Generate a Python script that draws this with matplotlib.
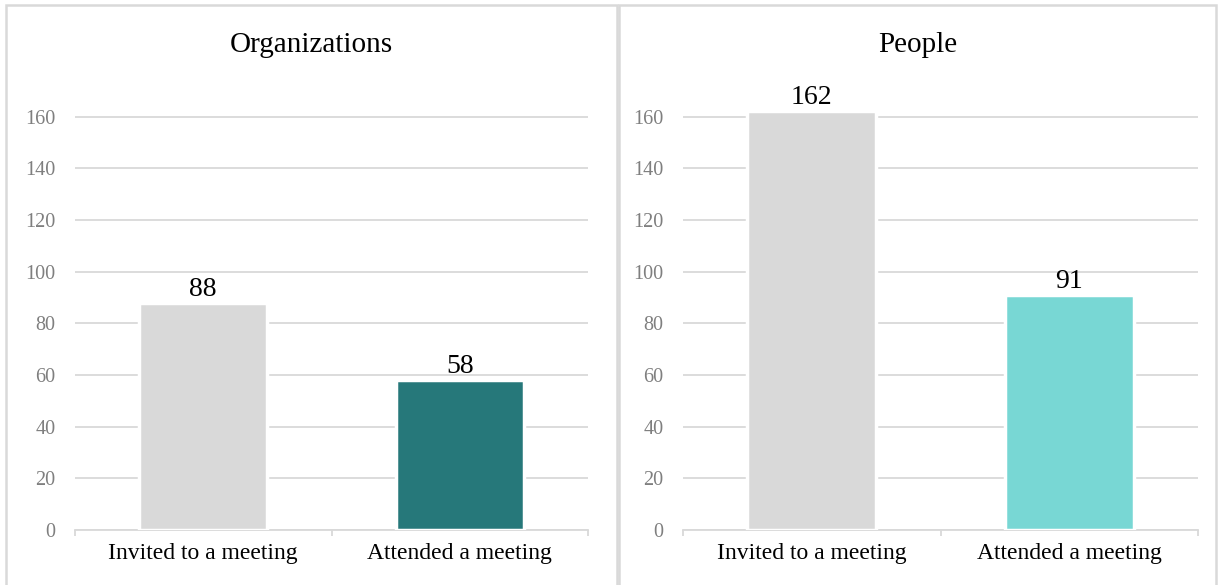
import matplotlib.pyplot as plt
import matplotlib.patches as mpatches

categories = ["Invited to a meeting", "Attended a meeting"]
panel_titles = ["Organizations", "People"]
org_values = [88, 58]
people_values = [162, 91]
org_colors = ["#d9d9d9", "#26787a"]
people_colors = ["#d9d9d9", "#78d7d4"]
y_ticks = [0, 20, 40, 60, 80, 100, 120, 140, 160]

W, H = 1219, 585
plt.rcParams['font.family'] = ['Liberation Serif', 'DejaVu Serif']

fig = plt.figure(figsize=(W / 100, H / 100), dpi=100)

# panel frames (pixel coords -> figure fraction)
for x0, x1 in [(6, 617), (619, 1216)]:
    rect = mpatches.Rectangle((x0 / W, -0.05), (x1 - x0) / W, 1 - 5 / H + 0.05,
                              transform=fig.transFigure, facecolor='none',
                              edgecolor='#d9d9d9', linewidth=1.8)
    fig.patches.append(rect)


def draw_panel(left_px, right_px, title, values, colors, center_px):
    bottom = 1 - 530 / H
    ymax = 165
    top_px = 530 - ymax * 2.584
    ax = fig.add_axes([left_px / W, bottom, (right_px - left_px) / W, (530 - top_px) / H])
    x = range(len(values))
    ax.bar(x, values, width=0.5, color=colors, edgecolor='white', linewidth=2.5, zorder=3)
    for xi, v in zip(x, values):
        ax.annotate(str(v), (xi, v), xytext=(0, 5), textcoords='offset points',
                    ha='center', va='baseline', fontsize=20, color='black')

    ax.set_xlim(-0.5, len(values) - 0.5)
    ax.set_ylim(0, ymax)
    ax.set_yticks(y_ticks)
    ax.tick_params(axis='y', length=0, pad=14, labelsize=14.5, labelcolor='#7f7f7f')
    ax.set_xticks(list(x))
    ax.set_xticklabels(categories)
    ax.tick_params(axis='x', which='major', length=0, pad=9, labelsize=17)
    ax.set_xticks([-0.5, 0.5, 1.5], minor=True)
    ax.tick_params(axis='x', which='minor', length=4.5, width=1.3, color='#d9d9d9')

    ax.yaxis.grid(True, color='#d9d9d9', linewidth=1.3, zorder=0)
    ax.set_axisbelow(True)
    for side in ['top', 'right', 'left']:
        ax.spines[side].set_visible(False)
    ax.spines['bottom'].set_color('#d9d9d9')
    ax.spines['bottom'].set_linewidth(1.3)

    fig.text(center_px / W, 1 - 45 / H, title, ha='center', va='center', fontsize=21)
    return ax


draw_panel(75, 588, panel_titles[0], org_values, org_colors, 311.5)
draw_panel(683, 1198, panel_titles[1], people_values, people_colors, 917.5)

plt.savefig("out.png", dpi=100)
plt.close()
